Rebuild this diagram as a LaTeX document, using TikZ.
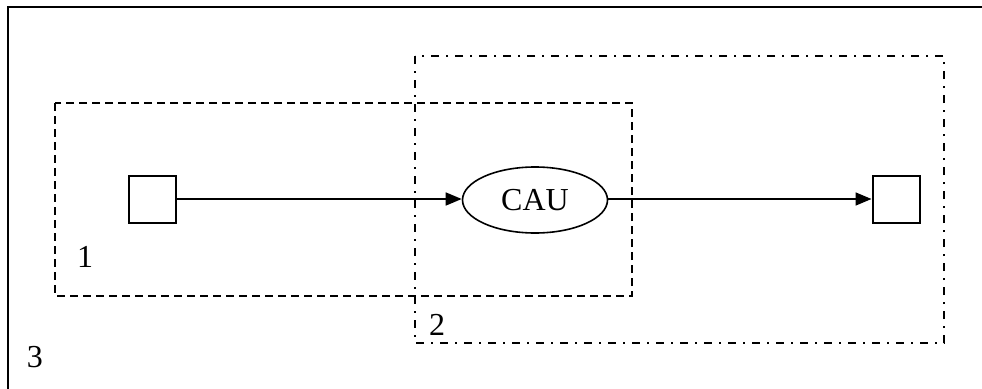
\documentclass[tikz,border=0pt]{standalone}
\usepackage{fontspec}
\setmainfont{Liberation Serif}
\usetikzlibrary{shapes.geometric,arrows.meta}
\begin{document}
\begin{tikzpicture}[x=1pt,y=-1pt,
  sq/.style={draw,line width=2pt,minimum size=47pt,inner sep=0pt},
  ell/.style={draw,ellipse,line width=1.6pt,minimum width=145pt,minimum height=66pt,inner sep=0pt,font=\fontsize{32}{36}\selectfont},
  lbl/.style={inner sep=0pt,font=\fontsize{32}{36}\selectfont},
  conn/.style={line width=1.6pt,-{Triangle[length=16pt,width=13pt]}},
  dashbox/.style={line width=1.8pt,dash pattern=on 8pt off 5pt},
  dotbox/.style={line width=1.8pt,dash pattern=on 8pt off 7pt on 2pt off 7pt}]
\useasboundingbox (0,0) rectangle (982,388);
\fill[white] (0,0) rectangle (982,388);
\draw[line width=2.4pt] (8,389) -- (8,7) -- (983,7);
\draw[dashbox] (55,103) rectangle (632,296);
\draw[dotbox] (415,56) rectangle (944,343);
\node[sq] (a) at (152,199) {};
\node[ell] (c) at (535,200) {CAU};
\node[sq] (b) at (896,199) {};
\draw[conn] (a.east) -- (c.west |- a.east);
\draw[conn] (c.east |- b.west) -- (b.west);
\node[lbl] (l1) at (85,257) {1};
\node[lbl] (l2) at (437,325) {2};
\node[lbl] (l3) at (35,357) {3};
\end{tikzpicture}
\end{document}
